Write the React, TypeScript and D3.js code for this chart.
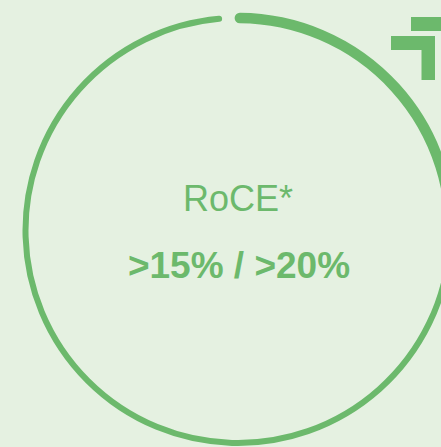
import React from "react";
import * as d3 from "d3";

const title = "RoCE*";
const targets = [">15%", ">20%"];
// compass angles in degrees (0 = top, clockwise)
const thickArc = [0.5, 95];
const thinArc = [95, 354.9];

const W = 441;
const H = 447;
const cx = 238;
const cy = 230.5;
const r = 212.5;
const green = "#6cb96c";
const bg = "#e5f1e1";

function arcPath(a0: number, a1: number) {
  const p = d3.path();
  const s = ((a0 - 90) * Math.PI) / 180;
  const e = ((a1 - 90) * Math.PI) / 180;
  p.moveTo(cx + r * Math.cos(s), cy + r * Math.sin(s));
  p.arc(cx, cy, r, s, e, false);
  return p.toString();
}

export default function App() {
  return (
    <svg
      width={W}
      height={H}
      style={{ position: "absolute", left: 0, top: 0, display: "block" }}
    >
      <rect x={0} y={0} width={W} height={H} fill={bg} />
      <path d={arcPath(thinArc[0], thinArc[1])} fill="none" stroke={green} strokeWidth={6} strokeLinecap="round" />
      <path d={arcPath(thickArc[0], thickArc[1])} fill="none" stroke={green} strokeWidth={10.5} strokeLinecap="round" />
      <rect x={411} y={17} width={40} height={14} fill={green} />
      <rect x={391} y={36} width={44} height={14} fill={green} />
      <rect x={421.5} y={36} width={13.5} height={44} fill={green} />
      <text x={238} y={211} textAnchor="middle" fontFamily="'Liberation Sans', Arial, sans-serif" fontSize={36} fill={green}>
        {title}
      </text>
      <text x={239} y={278} textAnchor="middle" fontFamily="'Liberation Sans', Arial, sans-serif" fontSize={37} fontWeight="bold" fill={green}>
        {targets.join(" / ")}
      </text>
    </svg>
  );
}
